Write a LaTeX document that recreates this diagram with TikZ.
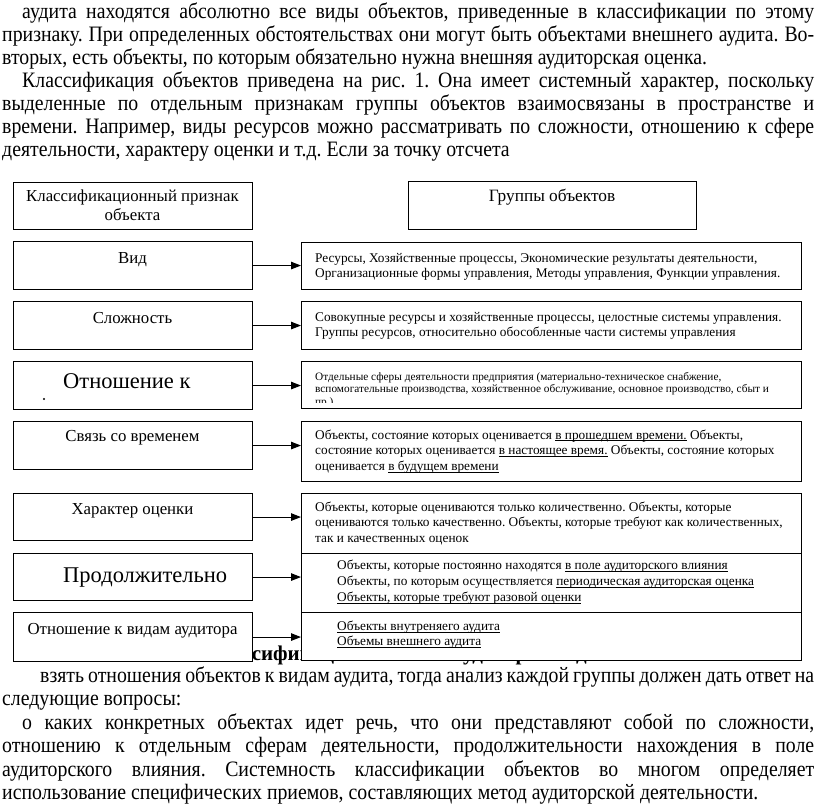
\documentclass[tikz,border=0pt]{standalone}
\usepackage{fontspec}
\setmainfont{Liberation Serif}
\newfontfamily\bodyfont[FakeStretch=0.9]{Liberation Serif}
\usetikzlibrary{arrows.meta}
\frenchspacing
\tikzset{
  lbox/.style={draw, line width=1.1pt, fill=white, minimum width=239pt, inner sep=0pt, anchor=north west},
  rbox/.style={draw, line width=1.3pt, fill=white, minimum width=500pt, inner sep=0pt, anchor=north west},
  btxt/.style={anchor=base west, inner sep=0pt, font=\bodyfont\fontsize{22}{25}\selectfont},
  lbl/.style={anchor=base, inner sep=0pt, font=\fontsize{16.8}{19}\selectfont},
  bigl/.style={anchor=base west, inner sep=0pt, font=\fontsize{22.5}{26}\selectfont},
  rtxt/.style={anchor=base west, inner sep=0pt, font=\fontsize{13.3}{15.5}\selectfont},
  stxt/.style={anchor=base west, inner sep=0pt, font=\fontsize{11.3}{13}\selectfont},
  arr/.style={-{Triangle[length=10pt,width=7.5pt]}, line width=1.1pt},
}
\newcommand{\jline}[2]{\makebox[#1pt][s]{#2}}
\newcommand{\ulx}[1]{\underline{\smash{#1}}}
\begin{document}
\begin{tikzpicture}[x=1pt,y=-1pt]
\fill[white] (0,0) rectangle (816,805);
\useasboundingbox (0,0) rectangle (816,805);
% body text top
\node[btxt] (t1) at (22,19) {\jline{792}{аудита находятся абсолютно все виды объектов, приведенные в классификации по этому}};
\node[btxt] (t2) at (2,42) {\jline{812}{признаку. При определенных обстоятельствах они могут быть объектами внешнего аудита. Во-}};
\node[btxt] (t3) at (2,65) {вторых, есть объекты, по которым обязательно нужна внешняя аудиторская оценка.};
\node[btxt] (t4) at (22,88) {\jline{792}{Классификация объектов приведена на рис. 1. Она имеет системный характер, поскольку}};
\node[btxt] (t5) at (2,111) {\jline{812}{выделенные по отдельным признакам группы объектов взаимосвязаны в пространстве и}};
\node[btxt] (t6) at (2,134) {\jline{812}{времени. Например, виды ресурсов можно рассматривать по сложности, отношению к сфере}};
\node[btxt] (t7) at (2,157) {деятельности, характеру оценки и т.д. Если за точку отсчета};
% caption (partly hidden behind boxes)
\node[anchor=base west, inner sep=0pt, font=\bfseries\fontsize{21}{25}\selectfont] (cap) at (139,660) {Рис. 1. Классификация объектов аудиторской деятельности};
% left boxes
\node[lbox, minimum height=47pt] (hdr) at (13,182) {};
\node[lbox, minimum height=48pt] (vid) at (13,241) {};
\node[lbox, minimum height=48pt] (slo) at (13,301) {};
\node[lbox, minimum height=48pt] (otn) at (13,361) {};
\node[lbox, minimum height=48pt] (svz) at (13,421) {};
\node[lbox, minimum height=47pt] (har) at (13,493) {};
\node[lbox, minimum height=47pt] (pro) at (13,553) {};
\node[lbox, minimum height=49pt] (ova) at (13,612) {};
% right boxes
\node[draw, line width=1.3pt, fill=white, minimum width=288pt, minimum height=48pt, inner sep=0pt, anchor=north west] (grp) at (408,181) {};
\node[rbox, minimum height=47pt] (g1) at (301,242) {};
\node[rbox, minimum height=48pt] (g2) at (301,301) {};
\node[rbox, minimum height=47pt] (g3) at (301,361) {};
\node[rbox, minimum height=60pt] (g4) at (301,421) {};
\node[rbox, minimum height=60pt] (g5) at (301,493) {};
\node[rbox, minimum height=59pt] (g6) at (301,553) {};
\node[rbox, minimum height=48pt] (g7) at (301,612) {};
% left labels
\node[lbl] (hdra) at (132.5,201.5) {Классификационный признак};
\node[lbl] (hdrb) at (132.5,220.5) {объекта};
\node[lbl] (vidl) at (132.5,263) {Вид};
\node[lbl] (slol) at (132.5,323) {Сложность};
\node[bigl] (otnl) at (63,388) {Отношение к};
\fill (44,399) circle (1.2pt);
\node[lbl] (svzl) at (132.5,441.5) {Связь со временем};
\node[lbl] (harl) at (132.5,514) {Характер оценки};
\node[bigl] (prol) at (63,582) {Продолжительно};
\node[lbl] (oval) at (132.5,634) {Отношение к видам аудитора};
\node[lbl, font=\fontsize{17.3}{19}\selectfont] (grpl) at (552,201.5) {Группы объектов};
% right texts
\node[rtxt] (r1a) at (315,262) {Ресурсы, Хозяйственные процессы, Экономические результаты деятельности,};
\node[rtxt] (r1b) at (315,277.5) {Организационные формы управления, Методы управления, Функции управления.};
\node[rtxt] (r2a) at (315,321) {Совокупные ресурсы и хозяйственные процессы, целостные системы управления.};
\node[rtxt] (r2b) at (315,336) {Группы ресурсов, относительно обособленные части системы управления};
\begin{scope}
\clip (301,361) rectangle (801,402.5);
\node[stxt] (r3a) at (315,380) {Отдельные сферы деятельности предприятия (материально-техническое снабжение,};
\node[stxt] (r3b) at (315,392.5) {вспомогательные производства, хозяйственное обслуживание, основное производство, сбыт и};
\node[stxt] (r3c) at (315,405.5) {пр.)};
\end{scope}
\node[rtxt] (r4a) at (315,439) {Объекты, состояние которых оценивается \ulx{в прошедшем времени.} Объекты,};
\node[rtxt] (r4b) at (315,454.7) {состояние которых оценивается \ulx{в настоящее время.} Объекты, состояние которых};
\node[rtxt] (r4c) at (315,470.3) {оценивается \ulx{в будущем времени}};
\node[rtxt] (r5a) at (315,511.3) {Объекты, которые оцениваются только количественно. Объекты, которые};
\node[rtxt] (r5b) at (315,526.8) {оцениваются только качественно. Объекты, которые требуют как количественных,};
\node[rtxt] (r5c) at (315,542.3) {так и качественных оценок};
\node[rtxt] (r6a) at (337,569.7) {Объекты, которые постоянно находятся \ulx{в поле аудиторского влияния}};
\node[rtxt] (r6b) at (337,585.7) {Объекты, по которым осуществляется \ulx{периодическая аудиторская оценка}};
\node[rtxt] (r6c) at (337,601.3) {\ulx{Объекты, которые требуют разовой оценки}};
\node[rtxt] (r7a) at (337,630.3) {\ulx{Объекты внутреняего аудита}};
\node[rtxt] (r7b) at (337,645.7) {\ulx{Объемы внешнего аудита}};
% arrows
\draw[arr] (vid.east) -- (vid.east -| g1.west);
\draw[arr] (slo.east) -- (slo.east -| g2.west);
\draw[arr] (otn.east) -- (otn.east -| g3.west);
\draw[arr] (svz.east) -- (svz.east -| g4.west);
\draw[arr] (har.east) -- (har.east -| g5.west);
\draw[arr] (pro.east) -- (pro.east -| g6.west);
\draw[arr] (ova.east) -- (ova.east -| g7.west);
% body text bottom
\node[btxt] (b1) at (40,682) {\jline{774}{взять отношения объектов к видам аудита, тогда анализ каждой группы должен дать ответ на}};
\node[btxt] (b2) at (2,705.5) {следующие вопросы:};
\node[btxt] (b3) at (22,729) {\jline{792}{о каких конкретных объектах идет речь, что они представляют собой по сложности,}};
\node[btxt] (b4) at (2,752.5) {\jline{812}{отношению к отдельным сферам деятельности, продолжительности нахождения в поле}};
\node[btxt] (b5) at (2,776) {\jline{812}{аудиторского влияния. Системность классификации объектов во многом определяет}};
\node[btxt] (b6) at (2,799.5) {использование специфических приемов, составляющих метод аудиторской деятельности.};
\end{tikzpicture}
\end{document}
